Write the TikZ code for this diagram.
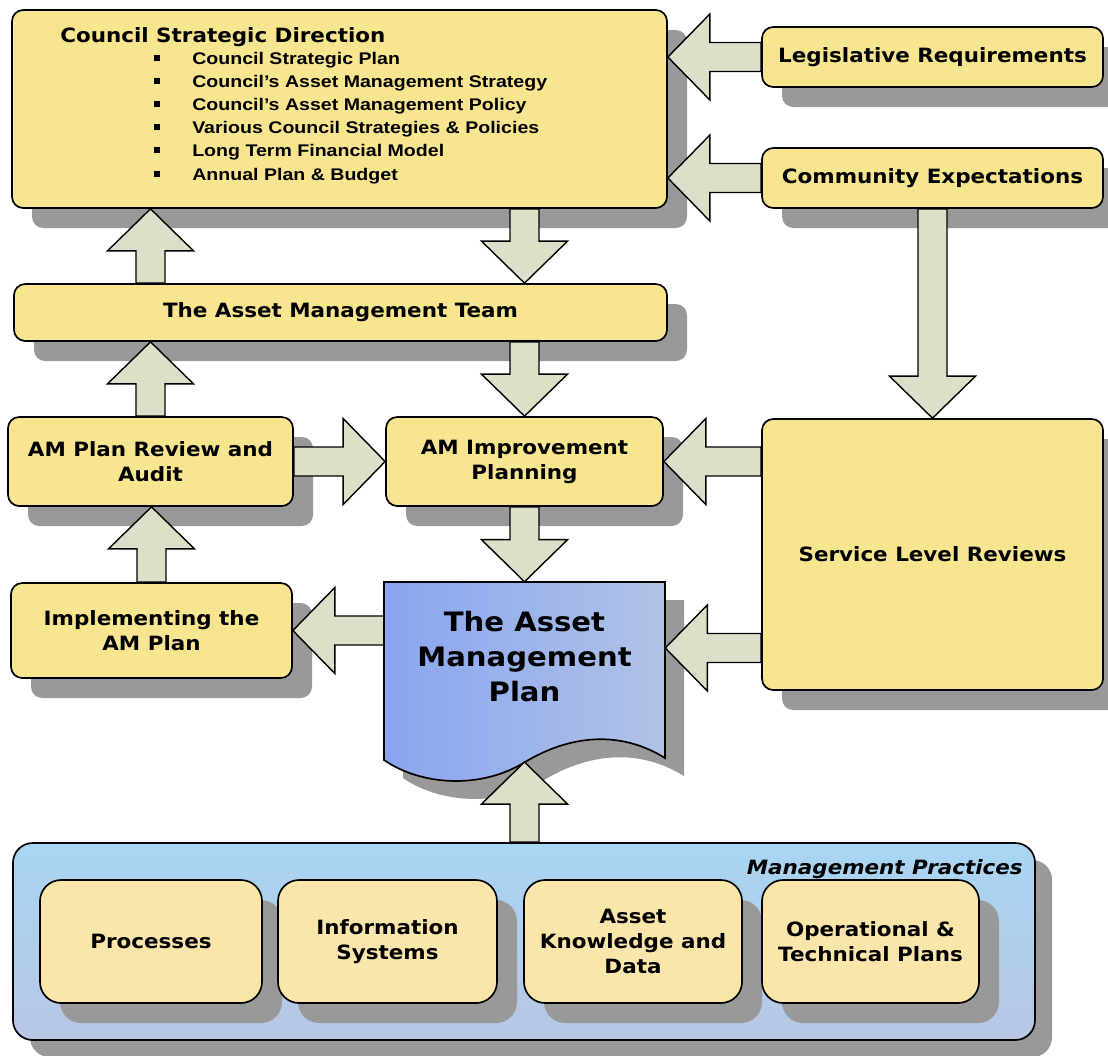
\documentclass[tikz,border=0pt]{standalone}
\usepackage{fontspec}
\usetikzlibrary{calc,shadows}
\newfontfamily\boxfont{DejaVu Sans}[FakeStretch=1.09]
\newfontfamily\listfont{Liberation Sans}[FakeStretch=1.16]
\definecolor{boxyellow}{RGB}{247,229,143}
\definecolor{paleyellow}{RGB}{250,230,170}
\definecolor{arrowgrey}{RGB}{221,224,201}
\definecolor{shadowgrey}{RGB}{153,153,153}
\definecolor{docleft}{RGB}{138,165,240}
\definecolor{docright}{RGB}{176,195,230}
\definecolor{paneltop}{RGB}{168,214,243}
\definecolor{panelbottom}{RGB}{183,199,228}

\newcommand{\bigarrow}[2]{%
  \coordinate (hb) at ($(#2)!29.9pt!(#1)$);
  \draw[fatarrow] ($(#1)!10.3pt!90:(#2)$) -- ($(hb)!10.3pt!90:(#2)$) -- ($(hb)!30.6pt!90:(#2)$) -- (#2)
    -- ($(hb)!30.6pt!-90:(#2)$) -- ($(hb)!10.3pt!-90:(#2)$) -- ($(#1)!10.3pt!-90:(#2)$) -- cycle;}

\tikzset{
  sz/.style 2 args={minimum width=#1*0.025cm, minimum height=#2*0.025cm},
  boxshadow/.style={drop shadow={shadow xshift=0.5cm, shadow yshift=-0.5cm, fill=shadowgrey, opacity=1}},
  mainbox/.style={draw, line width=1.2pt, rounded corners=8pt, fill=boxyellow, boxshadow, align=center,
    inner sep=2pt, font={\boxfont\bfseries\fontsize{14}{17.8}\selectfont}},
  practicebox/.style={mainbox, fill=paleyellow, rounded corners=15pt,
    font={\boxfont\bfseries\fontsize{14}{17.8}\selectfont}},
  fatarrow/.style={draw, line width=1pt, fill=arrowgrey}
}

\begin{document}
\begin{tikzpicture}[x=0.025cm, y=-0.025cm]
\useasboundingbox (0,0) rectangle (1108,1055);

\node[mainbox, sz={655}{198}] (csd) at (339.5,109) {};
\node[anchor=base west, inner sep=0pt, font={\boxfont\bfseries\fontsize{14}{18}\selectfont}] (csdtitle) at (60,42) {Council Strategic Direction};
\node[anchor=base west, inner sep=0pt, font={\listfont\bfseries\fontsize{12}{16.5}\selectfont}] (csdlist) at (154,64) {%
  \begin{tabular}[t]{@{}l@{\hspace{22.7pt}}l@{}}
  \rule[2.4pt]{4.3pt}{4.3pt} & Council Strategic Plan\\
  \rule[2.4pt]{4.3pt}{4.3pt} & Council’s Asset Management Strategy\\
  \rule[2.4pt]{4.3pt}{4.3pt} & Council’s Asset Management Policy\\
  \rule[2.4pt]{4.3pt}{4.3pt} & Various Council Strategies \& Policies\\
  \rule[2.4pt]{4.3pt}{4.3pt} & Long Term Financial Model\\
  \rule[2.4pt]{4.3pt}{4.3pt} & Annual Plan \& Budget
  \end{tabular}};

\node[mainbox, sz={341}{60}] (leg) at (932.5,57) {Legislative Requirements};
\node[mainbox, sz={341}{60}] (comm) at (932.5,178) {Community Expectations};
\node[mainbox, sz={653}{57}] (team) at (340.5,312.5) {The Asset Management Team};
\node[mainbox, sz={285}{89}] (review) at (150.5,461.5) {AM Plan Review and\\Audit};
\node[mainbox, sz={277}{89}] (imp) at (524.5,461.5) {AM Improvement\\Planning};
\node[mainbox, sz={341}{271}] (slr) at (932.5,554.5) {Service Level Reviews};
\node[mainbox, sz={281}{95}] (impl) at (151.5,630.5) {Implementing the\\AM Plan};

\fill[shadowgrey, shift={(19,18)}] (384,582) -- (665,582) -- (665,758) .. controls (620,730) and (570,735) .. (525,762)
  .. controls (480,790) and (420,785) .. (384,760) -- cycle;
\draw[line width=1.2pt, left color=docleft, right color=docright] (384,582) -- (665,582) -- (665,758)
  .. controls (620,730) and (570,735) .. (525,762) .. controls (480,790) and (420,785) .. (384,760) -- cycle;
\node[sz={281}{150}, align=center, font={\boxfont\bfseries\fontsize{19}{24.9}\selectfont}] (amp) at (524.5,657) {The Asset\\Management\\Plan};
\coordinate (wavetip) at (524.5,762);
\coordinate (ampr) at ($(amp.north east)!0.44!(amp.south east)$);

\node[draw, line width=1.2pt, rounded corners=14pt, top color=paneltop, bottom color=panelbottom,
  drop shadow={shadow xshift=0.425cm, shadow yshift=-0.425cm, fill=shadowgrey, opacity=1}, sz={1022}{197}] (panel) at (524,941.5) {};
\node[anchor=base east, inner sep=0pt, font={\boxfont\bfseries\itshape\fontsize{14}{17}\selectfont}] (practices) at (1023,874) {Management Practices};
\node[practicebox, sz={222}{123}] (proc) at (151,941.5) {Processes};
\node[practicebox, sz={219}{123}] (info) at (387.5,941.5) {Information\\Systems};
\node[practicebox, sz={218}{123}] (know) at (633,941.5) {Asset\\Knowledge and\\Data};
\node[practicebox, sz={217}{123}] (oper) at (870.5,941.5) {Operational \&\\Technical Plans};

\bigarrow{leg.west}{csd.east |- leg.west}
\bigarrow{comm.west}{csd.east |- comm.west}
\bigarrow{csd.south -| imp.north}{team.north -| imp.north}
\bigarrow{team.north -| review.north}{csd.south -| review.north}
\bigarrow{team.south -| imp.north}{imp.north}
\bigarrow{review.north}{team.south -| review.north}
\bigarrow{review.east}{imp.west}
\bigarrow{comm.south}{slr.north}
\bigarrow{slr.west |- imp.east}{imp.east}
\bigarrow{imp.south}{amp.north}
\bigarrow{impl.north}{review.south -| impl.north}
\bigarrow{amp.west |- impl.east}{impl.east}
\bigarrow{slr.west |- ampr}{ampr}
\bigarrow{panel.north -| wavetip}{wavetip}
\end{tikzpicture}
\end{document}
